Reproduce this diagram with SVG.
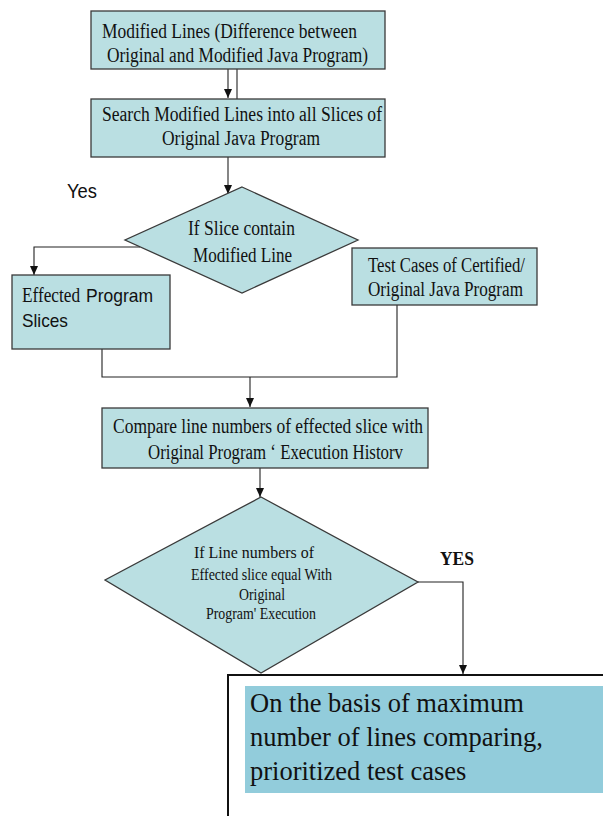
<svg xmlns="http://www.w3.org/2000/svg" width="603" height="816" viewBox="0 0 603 816">
  <style>
    .box { fill: #BADFE2; stroke: #3a3a3a; stroke-width: 1.3; }
    .serif { font-family: "Liberation Serif", "Times New Roman", serif; fill: #111; }
    .sans { font-family: "Liberation Sans", Arial, sans-serif; fill: #111; }
    .lbl { font-size: 20px; }
    .small { font-size: 17px; }
    .conn { fill: none; stroke: #222; stroke-width: 1.1; }
  </style>
  <defs>
    <marker id="arrow" markerUnits="userSpaceOnUse" markerWidth="9" markerHeight="9" refX="9" refY="4" orient="auto">
      <path d="M0,0 L9,4 L0,8 z" fill="#111"/>
    </marker>
  </defs>

  <rect width="603" height="816" fill="#ffffff"/>

  <!-- connectors -->
  <g id="connectors">
    <path class="conn" d="M228,69 V98" marker-end="url(#arrow)"/>
    <path class="conn" d="M237,69 V99"/>
    <path class="conn" d="M228,157 V194" marker-end="url(#arrow)"/>
    <path class="conn" d="M140,247 H34 V275" marker-end="url(#arrow)"/>
    <path class="conn" d="M102,349 V377 H397 V305"/>
    <path class="conn" d="M250,377 V407" marker-end="url(#arrow)"/>
    <path class="conn" d="M260,468 V497" marker-end="url(#arrow)"/>
    <path class="conn" d="M418,582 H463 V674" marker-end="url(#arrow)"/>
  </g>

  <!-- Modified lines -->
  <g id="modified-lines">
    <rect class="box" x="91" y="11" width="294" height="58"/>
    <text class="serif lbl" x="102" y="38" textLength="255" lengthAdjust="spacingAndGlyphs">Modified Lines (Difference between</text>
    <text class="serif lbl" x="107" y="62" textLength="261" lengthAdjust="spacingAndGlyphs">Original and Modified Java Program)</text>
  </g>

  <!-- Search in slices -->
  <g id="search-slices">
    <rect class="box" x="91" y="99" width="294" height="58"/>
    <text class="serif lbl" x="102" y="121" textLength="280" lengthAdjust="spacingAndGlyphs">Search Modified Lines into all Slices of</text>
    <text class="serif lbl" x="162" y="145" textLength="158" lengthAdjust="spacingAndGlyphs">Original Java Program</text>
  </g>

  <!-- Yes label -->
  <g id="yes-label">
    <text class="sans" x="67" y="198" font-size="21" textLength="30" lengthAdjust="spacingAndGlyphs">Yes</text>
  </g>

  <!-- Decision: slice contains modified line -->
  <g id="slice-decision">
    <polygon class="box" points="242,187 358,240 242,293 125,240"/>
    <text class="serif lbl" x="188" y="235" textLength="107" lengthAdjust="spacingAndGlyphs">If Slice contain</text>
    <text class="serif lbl" x="193" y="262" textLength="99" lengthAdjust="spacingAndGlyphs">Modified Line</text>
  </g>

  <!-- Effected program slices -->
  <g id="effected-slices">
    <rect class="box" x="12" y="275" width="158" height="74"/>
    <text class="serif" x="22" y="302" font-size="20" textLength="58" lengthAdjust="spacingAndGlyphs">Effected</text>
    <text class="sans" x="86" y="302" font-size="19" textLength="67" lengthAdjust="spacingAndGlyphs">Program</text>
    <text class="sans" x="22" y="327" font-size="19" textLength="46" lengthAdjust="spacingAndGlyphs">Slices</text>
  </g>

  <!-- Test cases -->
  <g id="test-cases">
    <rect class="box" x="352" y="248" width="185" height="57"/>
    <text class="serif lbl" x="368" y="272" textLength="157" lengthAdjust="spacingAndGlyphs">Test Cases of Certified/</text>
    <text class="serif lbl" x="368" y="296" textLength="155" lengthAdjust="spacingAndGlyphs">Original Java Program</text>
  </g>

  <!-- Compare line numbers -->
  <g id="compare-lines">
    <rect class="box" x="102" y="408" width="326" height="60"/>
    <text class="serif lbl" x="113" y="433" textLength="310" lengthAdjust="spacingAndGlyphs">Compare line numbers of effected slice with</text>
    <text class="serif lbl" x="148" y="459" textLength="255" lengthAdjust="spacingAndGlyphs">Original Program ‘ Execution Historv</text>
  </g>

  <!-- Decision: line numbers equal -->
  <g id="line-decision">
    <polygon class="box" points="261,497 418,582 261,673 105,580"/>
    <text class="serif small" x="194" y="558" textLength="120" lengthAdjust="spacingAndGlyphs">If Line numbers of</text>
    <text class="serif small" x="191" y="580" textLength="141" lengthAdjust="spacingAndGlyphs">Effected slice equal With</text>
    <text class="serif small" x="239" y="600" textLength="46" lengthAdjust="spacingAndGlyphs">Original</text>
    <text class="serif small" x="206" y="619" textLength="110" lengthAdjust="spacingAndGlyphs">Program' Execution</text>
  </g>

  <!-- YES label -->
  <g id="yes-bold-label">
    <text class="serif" x="440" y="565" font-size="18" font-weight="bold" textLength="34" lengthAdjust="spacingAndGlyphs">YES</text>
  </g>

  <!-- Prioritized result -->
  <g id="prioritized-result">
    <rect x="228" y="675" width="390" height="160" fill="#ffffff" stroke="#111" stroke-width="2"/>
    <rect x="245" y="686" width="370" height="107" fill="#92CCDB"/>
    <text class="serif" x="250" y="712" font-size="26.5">On the basis of maximum</text>
    <text class="serif" x="250" y="746" font-size="26.5">number of lines comparing,</text>
    <text class="serif" x="250" y="780" font-size="26.5">prioritized test cases</text>
  </g>
</svg>
